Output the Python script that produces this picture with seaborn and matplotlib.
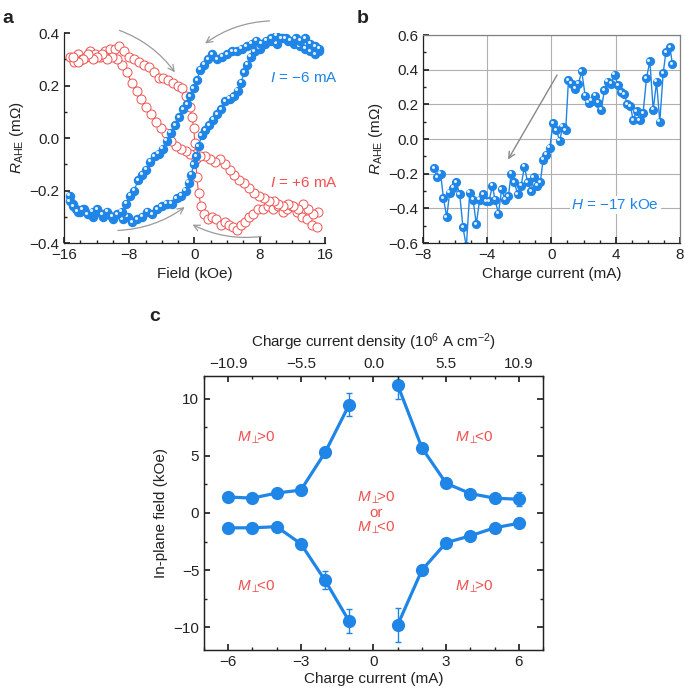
import matplotlib
matplotlib.use("Agg")
import matplotlib.pyplot as plt
import matplotlib.transforms as mtransforms
from matplotlib.ticker import MultipleLocator, FuncFormatter
import seaborn as sns
import numpy as np

# ---------------- panel a: R_AHE vs field (hysteresis loops) ----------------
blue_up_x = [-15.3, -14.9, -14.5, -14.0, -13.5, -13.0, -12.4, -11.8, -11.2, -10.6, -10.0, -9.4, -8.8, -8.2,
             -7.6, -7.0, -6.4, -5.8, -5.2, -4.6, -4.0, -3.4, -2.8, -2.2, -1.6, -1.1, -0.7, -0.4, -0.1, 0.2,
             0.5, 0.9, 1.3, 1.8, 2.3, 2.8, 3.3, 3.8, 4.3, 4.8, 5.3, 5.7, 6.1, 6.5, 6.9, 7.4, 8.0, 8.7, 9.4,
             10.1, 10.8, 11.5, 12.2, 12.9, 13.6, 14.2, 14.8, 15.3]
blue_up_y = [-0.22, -0.25, -0.27, -0.28, -0.27, -0.29, -0.30, -0.28, -0.30, -0.29, -0.31, -0.29, -0.31, -0.30,
             -0.32, -0.31, -0.30, -0.28, -0.29, -0.27, -0.26, -0.25, -0.25, -0.23, -0.22, -0.20, -0.17, -0.14,
             -0.10, -0.07, -0.03, 0.01, 0.03, 0.05, 0.07, 0.09, 0.11, 0.14, 0.15, 0.16, 0.18, 0.21, 0.25, 0.28,
             0.31, 0.33, 0.34, 0.36, 0.37, 0.36, 0.38, 0.37, 0.36, 0.35, 0.34, 0.33, 0.32, 0.33]
blue_down_x = [15.3, 14.8, 14.2, 13.6, 13.0, 12.4, 11.8, 11.2, 10.6, 10.0, 9.4, 8.8, 8.2, 7.6, 7.0, 6.4, 5.8,
               5.2, 4.6, 4.0, 3.4, 2.8, 2.2, 1.7, 1.2, 0.7, 0.3, -0.1, -0.5, -0.9, -1.4, -1.9, -2.4, -2.9, -3.4,
               -3.9, -4.4, -4.9, -5.4, -5.9, -6.4, -6.9, -7.4, -7.9, -8.4, -8.9, -9.5, -10.1, -10.7, -11.3,
               -11.9, -12.5, -13.1, -13.7, -14.3, -14.9, -15.3]
blue_down_y = [0.34, 0.35, 0.36, 0.38, 0.37, 0.38, 0.37, 0.38, 0.38, 0.39, 0.38, 0.37, 0.36, 0.37, 0.36, 0.35,
               0.34, 0.33, 0.33, 0.32, 0.31, 0.30, 0.32, 0.30, 0.28, 0.26, 0.22, 0.19, 0.16, 0.13, 0.11, 0.08,
               0.05, 0.02, -0.01, -0.04, -0.06, -0.07, -0.09, -0.12, -0.14, -0.16, -0.20, -0.22, -0.25, -0.28,
               -0.29, -0.30, -0.28, -0.29, -0.27, -0.28, -0.29, -0.27, -0.28, -0.26, -0.24]
red_down_x = [-15.3, -14.8, -14.3, -13.8, -13.3, -12.8, -12.2, -11.6, -11.0, -10.4, -9.8, -9.2, -8.6, -8.0,
              -7.4, -6.8, -6.2, -5.6, -5.0, -4.4, -3.8, -3.2, -2.6, -2.0, -1.5, -1.0, -0.6, -0.3, -0.1, 0.05,
              0.15, 0.3, 0.5, 0.8, 1.2, 1.7, 2.2, 2.7, 3.2, 3.7, 4.2, 4.7, 5.2, 5.7, 6.2, 6.7, 7.2, 7.8, 8.4,
              9.0, 9.6, 10.2, 10.8, 11.4, 12.0, 12.6, 13.2, 13.8, 14.4, 15.0]
red_down_y = [0.31, 0.29, 0.32, 0.30, 0.31, 0.33, 0.32, 0.31, 0.33, 0.34, 0.34, 0.35, 0.33, 0.31, 0.30, 0.29,
              0.28, 0.27, 0.25, 0.23, 0.23, 0.22, 0.21, 0.20, 0.19, 0.16, 0.12, 0.08, 0.04, -0.02, -0.08, -0.15,
              -0.21, -0.26, -0.29, -0.31, -0.30, -0.31, -0.33, -0.32, -0.33, -0.34, -0.35, -0.33, -0.32, -0.30,
              -0.29, -0.27, -0.27, -0.26, -0.27, -0.26, -0.28, -0.27, -0.26, -0.28, -0.30, -0.31, -0.33, -0.34]
red_up_x = [15.1, 14.5, 13.9, 13.3, 12.7, 12.1, 11.5, 10.9, 10.3, 9.7, 9.1, 8.5, 7.9, 7.3, 6.7, 6.1, 5.5, 4.9,
            4.3, 3.7, 3.1, 2.5, 1.9, 1.3, 0.7, 0.1, -0.5, -1.1, -1.7, -2.3, -2.9, -3.5, -4.1, -4.7, -5.3, -5.9,
            -6.5, -7.1, -7.7, -8.3, -8.9, -9.5, -10.1, -10.7, -11.3, -11.9, -12.5, -13.1, -13.7, -14.3, -14.9]
red_up_y = [-0.28, -0.29, -0.27, -0.25, -0.27, -0.26, -0.25, -0.26, -0.25, -0.24, -0.24, -0.23, -0.22, -0.21,
            -0.19, -0.17, -0.16, -0.14, -0.12, -0.10, -0.08, -0.09, -0.08, -0.07, -0.07, -0.06, -0.06, -0.05,
            -0.04, -0.03, -0.01, 0.02, 0.04, 0.06, 0.09, 0.12, 0.15, 0.18, 0.21, 0.25, 0.28, 0.30, 0.31, 0.30,
            0.32, 0.31, 0.30, 0.32, 0.30, 0.29, 0.31]

# ---------------- panel b: R_AHE vs charge current ----------------
b_current = [-7.31, -7.10, -6.90, -6.73, -6.52, -6.34, -6.13, -5.92, -5.71, -5.51, -5.30, -5.09, -4.88, -4.68,
             -4.47, -4.26, -4.05, -3.89, -3.68, -3.51, -3.30, -3.10, -2.89, -2.68, -2.51, -2.31, -2.10, -1.89,
             -1.68, -1.48, -1.27, -1.10, -0.89, -0.69, -0.52, -0.31, -0.10, 0.10, 0.31, 0.52, 0.69, 0.89,
             1.06, 1.27, 1.48, 1.68, 1.89, 2.10, 2.31, 2.51, 2.72, 2.93, 3.10, 3.30, 3.51, 3.72, 3.93, 4.14,
             4.34, 4.55, 4.72, 4.92, 5.09, 5.30, 5.51, 5.71, 5.92, 6.13, 6.34, 6.55, 6.75, 6.96, 7.13, 7.38, 7.54]
b_rahe = [-0.17, -0.22, -0.20, -0.34, -0.45, -0.31, -0.28, -0.25, -0.32, -0.51, -0.62, -0.31, -0.35, -0.49,
          -0.35, -0.32, -0.36, -0.36, -0.27, -0.35, -0.43, -0.29, -0.35, -0.33, -0.20, -0.25, -0.32, -0.27,
          -0.16, -0.25, -0.30, -0.22, -0.27, -0.25, -0.12, -0.09, -0.05, 0.09, 0.05, -0.01, 0.07, 0.05,
          0.34, 0.32, 0.29, 0.32, 0.39, 0.25, 0.21, 0.22, 0.25, 0.21, 0.17, 0.28, 0.33, 0.32, 0.37, 0.31,
          0.27, 0.26, 0.20, 0.19, 0.11, 0.16, 0.11, 0.15, 0.35, 0.45, 0.17, 0.33, 0.10, 0.38, 0.50, 0.53, 0.43]

# ---------------- panel c: switching phase diagram ----------------
c_neg_i = [-6, -5, -4, -3, -2, -1]
c_pos_i = [1, 2, 3, 4, 5, 6]
c_upper_left = [1.4, 1.3, 1.75, 2.0, 5.3, 9.5]
c_upper_left_err = [0.3, 0.3, 0.3, 0.4, 0.4, 1.05]
c_upper_right = [11.2, 5.7, 2.6, 1.7, 1.3, 1.2]
c_upper_right_err = [1.25, 0.3, 0.3, 0.3, 0.3, 0.6]
c_lower_left = [-1.3, -1.3, -1.2, -2.7, -5.9, -9.5]
c_lower_left_err = [0.3, 0.3, 0.3, 0.3, 0.8, 1.05]
c_lower_right = [-9.8, -5.0, -2.6, -2.0, -1.3, -0.9]
c_lower_right_err = [1.5, 0.45, 0.3, 0.3, 0.3, 0.3]
c_top_ticks = [-6, -3, 0, 3, 6]
c_top_labels = ["\u221210.9", "\u22125.5", "0.0", "5.5", "10.9"]

BLUE = "#1f85e6"
RED = "#ef5050"
GRAY = "#9a9a9a"
MINUS = "\u2212"

sns.set_theme(style="ticks")
plt.rcParams["font.family"] = ["Liberation Sans", "DejaVu Sans"]
plt.rcParams.update({
    "mathtext.fontset": "custom",
    "mathtext.rm": "Liberation Sans",
    "mathtext.it": "Liberation Sans:italic",
    "font.size": 11,
    "axes.labelsize": 11,
    "xtick.labelsize": 11,
    "ytick.labelsize": 11,
    "xtick.direction": "in",
    "ytick.direction": "in",
    "xtick.major.size": 4,
    "ytick.major.size": 4,
    "xtick.minor.size": 2,
    "ytick.minor.size": 2,
    "xtick.minor.visible": True,
    "ytick.minor.visible": True,
    "axes.linewidth": 0.9,
    "axes.edgecolor": "#222222",
    "text.color": "#222222",
    "axes.labelcolor": "#222222",
    "xtick.color": "#222222",
    "ytick.color": "#222222",
    "axes.unicode_minus": True,
})

one_decimal = FuncFormatter(lambda v, pos: f"{v:.1f}".replace("-", MINUS))

fig = plt.figure(figsize=(6.85, 6.92), dpi=100)
ax_a = fig.add_axes([0.0934, 0.6488, 0.381, 0.3035])
ax_b = fig.add_axes([0.6175, 0.6488, 0.375, 0.3006])
ax_c = fig.add_axes([0.2978, 0.0607, 0.4949, 0.3960])

shine = mtransforms.ScaledTranslation(-1.0 / 72, 1.0 / 72, fig.dpi_scale_trans)


def sphere_line(ax, x, y, ms=6.5, lw=0.9):
    sns.lineplot(x=x, y=y, ax=ax, sort=False, estimator=None, color=BLUE, lw=lw,
                 marker="o", markersize=ms, markeredgewidth=0, markerfacecolor=BLUE)
    ax.plot(x, y, "o", ms=ms * 0.33, color="#e2f0ff", mec="none", transform=ax.transData + shine)


# ---- panel a ----
for xs, ys in [(red_down_x, red_down_y), (red_up_x, red_up_y)]:
    sns.lineplot(x=xs, y=ys, ax=ax_a, sort=False, estimator=None, color=RED, lw=0.8,
                 marker="o", markersize=6.5, markerfacecolor="white", markeredgecolor=RED,
                 markeredgewidth=0.7)
for xs, ys in [(blue_up_x, blue_up_y), (blue_down_x, blue_down_y)]:
    sphere_line(ax_a, xs, ys, ms=6.8)

ax_a.set_xlim(-16, 16)
ax_a.set_ylim(-0.4, 0.4)
ax_a.xaxis.set_major_locator(MultipleLocator(8))
ax_a.xaxis.set_minor_locator(MultipleLocator(2))
ax_a.yaxis.set_major_locator(MultipleLocator(0.2))
ax_a.yaxis.set_minor_locator(MultipleLocator(0.1))
ax_a.yaxis.set_major_formatter(one_decimal)
sns.despine(ax=ax_a)
ax_a.set_xlabel("Field (kOe)")
ax_a.set_ylabel(r"$\it{R}_{\rm AHE}$ (m$\Omega$)", labelpad=2)
ax_a.text(9.3, 0.23, r"$\it{I}$ = " + MINUS + "6 mA", color=BLUE, va="center", clip_on=False)
ax_a.text(9.3, -0.17, r"$\it{I}$ = +6 mA", color=RED, va="center", clip_on=False)

arrow_kw = dict(arrowstyle="->", color=GRAY, lw=0.9, shrinkA=0, shrinkB=0)
ax_a.annotate("", xy=(-2.4, 0.25), xytext=(-9.2, 0.41),
              arrowprops=dict(connectionstyle="arc3,rad=-0.15", **arrow_kw), annotation_clip=False)
ax_a.annotate("", xy=(1.3, 0.36), xytext=(9.2, 0.446),
              arrowprops=dict(connectionstyle="arc3,rad=0.15", **arrow_kw), annotation_clip=False)
ax_a.annotate("", xy=(-1.2, -0.263), xytext=(-9.4, -0.352),
              arrowprops=dict(connectionstyle="arc3,rad=0.15", **arrow_kw), annotation_clip=False)
ax_a.annotate("", xy=(-0.25, -0.33), xytext=(8.2, -0.375),
              arrowprops=dict(connectionstyle="arc3,rad=-0.15", **arrow_kw), annotation_clip=False)

# ---- panel b ----
ax_b.grid(True, which="major", color="#b0b0b0", lw=0.8)
ax_b.set_axisbelow(True)
sphere_line(ax_b, b_current, b_rahe, ms=6.6, lw=1.0)
ax_b.set_xlim(-8, 8)
ax_b.set_ylim(-0.6, 0.6)
ax_b.xaxis.set_major_locator(MultipleLocator(4))
ax_b.xaxis.set_minor_locator(MultipleLocator(1))
ax_b.yaxis.set_major_locator(MultipleLocator(0.2))
ax_b.yaxis.set_minor_locator(MultipleLocator(0.1))
ax_b.yaxis.set_major_formatter(one_decimal)
ax_b.spines["top"].set_color("#808080")
ax_b.spines["right"].set_color("#808080")
ax_b.tick_params(top=False, right=False, which="both")
ax_b.set_xlabel("Charge current (mA)")
ax_b.set_ylabel(r"$\it{R}_{\rm AHE}$ (m$\Omega$)", labelpad=2)
ax_b.annotate("", xy=(-2.7, -0.118), xytext=(0.35, 0.369),
              arrowprops=dict(arrowstyle="->", color="#888888", lw=1.0, shrinkA=0, shrinkB=0))
ax_b.text(1.25, -0.38, r"$\it{H}$ = " + MINUS + "17 kOe", color=BLUE, va="center",
          bbox=dict(facecolor="white", edgecolor="none", pad=1.0))

# ---- panel c ----
series_c = [(c_neg_i, c_upper_left, c_upper_left_err), (c_pos_i, c_upper_right, c_upper_right_err),
            (c_neg_i, c_lower_left, c_lower_left_err), (c_pos_i, c_lower_right, c_lower_right_err)]
for xs, ys, es in series_c:
    ax_c.errorbar(xs, ys, yerr=es, fmt="none", ecolor=BLUE, elinewidth=1.0, capsize=2.5, capthick=1.0)
    sns.lineplot(x=xs, y=ys, ax=ax_c, color=BLUE, lw=2.3, marker="o", markersize=9.5,
                 markeredgewidth=0, markerfacecolor=BLUE)
ax_c.set_xlim(-7, 7)
ax_c.set_ylim(-12, 12)
ax_c.xaxis.set_major_locator(MultipleLocator(3))
ax_c.xaxis.set_minor_locator(MultipleLocator(1))
ax_c.yaxis.set_major_locator(MultipleLocator(5))
ax_c.yaxis.set_minor_locator(MultipleLocator(2.5))
ax_c.tick_params(right=True, which="both")
ax_c.set_xlabel("Charge current (mA)", labelpad=2)
ax_c.set_ylabel("In-plane field (kOe)")

ax_top = ax_c.twiny()
ax_top.set_xlim(ax_c.get_xlim())
ax_top.set_xticks(c_top_ticks)
ax_top.set_xticklabels(c_top_labels)
ax_top.xaxis.set_minor_locator(MultipleLocator(1))
ax_top.tick_params(which="both", direction="in")
ax_top.set_xlabel(r"Charge current density (10$^{6}$ A cm$^{" + MINUS + "2}$)", labelpad=7)

m_pos = r"$\mathit{M}_{\perp}\!\!$>0"
m_neg = r"$\mathit{M}_{\perp}\!\!$<0"
ax_c.text(-4.85, 6.6, m_pos, color=RED, ha="center", va="center")
ax_c.text(4.18, 6.6, m_neg, color=RED, ha="center", va="center")
ax_c.text(-4.85, -6.5, m_neg, color=RED, ha="center", va="center")
ax_c.text(4.18, -6.5, m_pos, color=RED, ha="center", va="center")
ax_c.text(0.1, 0.0, m_pos + "\nor\n" + m_neg, color=RED, ha="center", va="center", linespacing=1.0)

# panel letters
fig.text(0.003, 0.985, "a", fontsize=14, fontweight="bold", va="top")
fig.text(0.521, 0.985, "b", fontsize=14, fontweight="bold", va="top")
fig.text(0.218, 0.555, "c", fontsize=14, fontweight="bold", va="top")

fig.savefig("out.png", dpi=100)
